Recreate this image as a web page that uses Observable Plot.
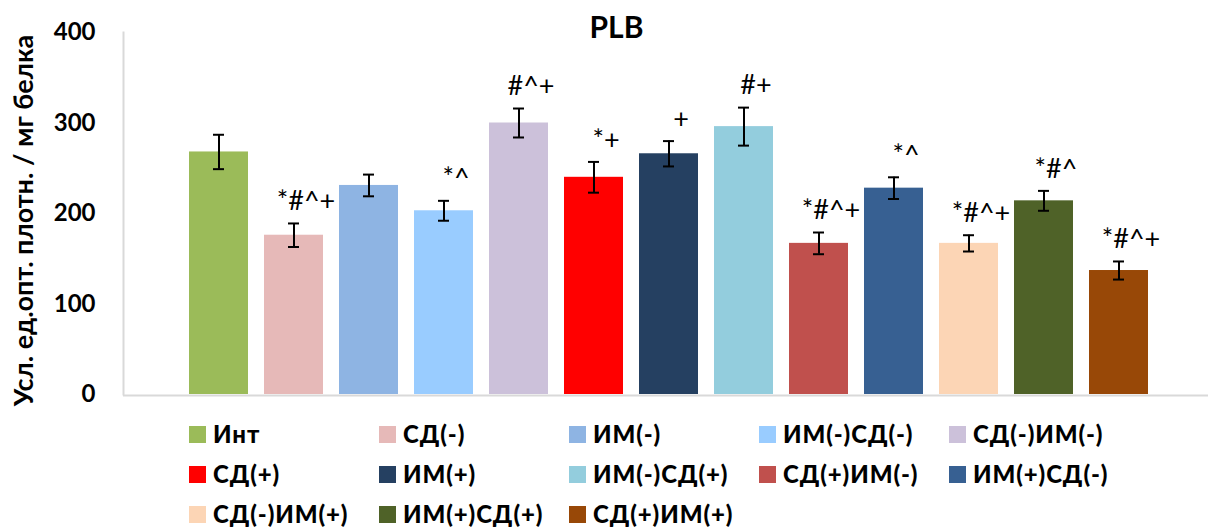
<!DOCTYPE html>
<html>
<head>
<meta charset="utf-8">
<script src="https://cdn.jsdelivr.net/npm/d3@7"></script>
<script src="https://cdn.jsdelivr.net/npm/@observablehq/plot@0.6"></script>
<style>
  html, body { margin: 0; padding: 0; background: #fff; }
  #wrap { position: relative; width: 1208px; height: 530px; overflow: hidden; font-family: Lato, sans-serif; }
  #chart { position: absolute; left: 0; top: 0; }
  #legend { position: absolute; left: 189px; top: 414px; display: grid; grid-template-columns: repeat(5, 190px); grid-auto-rows: 40px; }
  .item { display: flex; align-items: center; font-weight: 900; font-size: 24px; line-height: 26px; letter-spacing: 0.9px; color: #000; white-space: nowrap; }
  .sw { width: 17px; height: 17px; margin-right: 7px; flex: none; }
</style>
</head>
<body>
<div id="wrap">
  <div id="chart"></div>
  <div id="legend"></div>
</div>
<script>
const categories = ["Инт", "СД(-)", "ИМ(-)", "ИМ(-)СД(-)", "СД(-)ИМ(-)", "СД(+)", "ИМ(+)", "ИМ(-)СД(+)", "СД(+)ИМ(-)", "ИМ(+)СД(-)", "СД(-)ИМ(+)", "ИМ(+)СД(+)", "СД(+)ИМ(+)"];
const values = [268, 176, 231, 203, 300, 240, 266, 296, 167, 228, 167, 214, 137];
const errors = [19, 13, 12, 11, 16, 17, 14, 21, 12, 12, 9, 11, 10];
const signif = ["", "*#^+", "", "*^", "#^+", "*+", "+", "#+", "*#^+", "*^", "*#^+", "*#^", "*#^+"];
const colors = ["#9bbb59", "#e6b9b8", "#8eb4e3", "#99ccff", "#ccc1da", "#ff0000", "#254061", "#93cddd", "#c0504d", "#376092", "#fcd5b5", "#4f6228", "#984807"];
const yTicks = [0, 100, 200, 300, 400];
const title = "PLB";
const yLabel = "Усл. ед.опт. плотн. / мг белка";

const data = categories.map((c, i) => ({cat: c, v: values[i], e: errors[i], s: signif[i], lo: values[i] - errors[i], hi: values[i] + errors[i]}));

const chart = Plot.plot({
  width: 1208,
  height: 410,
  marginTop: 32,
  marginBottom: 16,
  marginLeft: 123,
  marginRight: 0,
  style: {fontFamily: "Lato, sans-serif", background: "transparent", overflow: "visible"},
  x: {domain: categories, range: [178, 1158.5], paddingInner: 0.21, paddingOuter: 0.105, axis: null},
  y: {domain: [0, 400], axis: null},
  color: {domain: categories, range: colors},
  marks: [
    Plot.ruleY([0], {stroke: "#d9d9d9", strokeWidth: 2, dy: 1}),
    Plot.frame({anchor: "left", stroke: "#d9d9d9", strokeWidth: 2}),
    Plot.axisY({ticks: yTicks, tickSize: 0, tickPadding: 28, fontSize: 24, fontWeight: "bold", tickFormat: d => String(d), fill: "#000"}),
    Plot.barY(data, {x: "cat", y: "v", fill: "cat"}),
    Plot.ruleX(data, {x: "cat", y1: "lo", y2: "hi", stroke: "#000", strokeWidth: 2}),
    Plot.tickY(data, {x: "cat", y: "lo", stroke: "#000", strokeWidth: 2, insetLeft: 24, insetRight: 24}),
    Plot.tickY(data, {x: "cat", y: "hi", stroke: "#000", strokeWidth: 2, insetLeft: 24, insetRight: 24}),
    Plot.text(data, {x: "cat", y: "hi", text: "s", dy: -22, dx: 12, fontSize: 27, fill: "#000", lineAnchor: "middle"}),
    Plot.text([title], {frameAnchor: "top-left", dx: 493, dy: -4, fontSize: 30, fontWeight: "bold", fill: "#000", lineAnchor: "middle", textAnchor: "middle"}),
    Plot.text([yLabel], {frameAnchor: "left", rotate: -90, dx: -99, dy: 7, fontSize: 27, fontWeight: "bold", fill: "#000", lineAnchor: "middle", textAnchor: "middle"})
  ]
});
document.getElementById("chart").appendChild(chart);

const legend = document.getElementById("legend");
categories.forEach((c, i) => {
  const item = document.createElement("div");
  item.className = "item";
  const sw = document.createElement("span");
  sw.className = "sw";
  sw.style.background = colors[i];
  const t = document.createElement("span");
  t.textContent = c;
  item.appendChild(sw);
  item.appendChild(t);
  legend.appendChild(item);
});
</script>
</body>
</html>
